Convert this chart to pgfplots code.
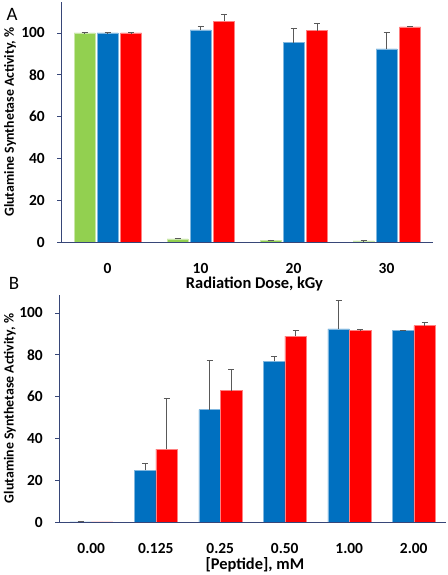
\documentclass[border=0pt]{standalone}
\usepackage{pgfplots}
\pgfplotsset{compat=1.18}
\usepackage{fontspec}
\setmainfont{Carlito}
\definecolor{cgreen}{RGB}{146,208,80}
\definecolor{cblue}{RGB}{0,112,192}
\definecolor{cred}{RGB}{255,0,0}
\definecolor{caxis}{RGB}{55,70,120}
\definecolor{cerr}{RGB}{89,89,89}
\pgfplotsset{
  myaxis/.style={
    scale only axis,
    ybar,
    axis lines=left,
    axis line style={-, caxis, line width=0.8pt},
    ymin=0,
    ytick={0,20,40,60,80,100},
    tick align=outside,
    major tick length=4bp,
    ytick style={caxis, line width=0.6pt},
    xtick style={draw=none},
    xtick=data,
    /pgf/number format/assume math mode=true,
    tick label style={font=\bfseries\fontsize{15.5}{17}\selectfont},
    label style={font=\bfseries\fontsize{13.9}{16}\selectfont},
    xticklabel style={anchor=center, yshift=-22bp},
    yticklabel style={anchor=east, inner sep=0pt, xshift=-12bp},
    error bars/error bar style={cerr, line width=0.8pt},
    error bars/error mark options={rotate=90, mark size=3bp, line width=0.8pt, cerr},
  }
}
\begin{document}
\begin{tikzpicture}[x=1bp,y=1bp]
\path[use as bounding box] (0,0) rectangle (448,575);
% Panel A
\begin{axis}[myaxis,
  at={(61bp,333bp)}, anchor=south west,
  width=372bp, height=240bp,
  xmin=-0.5, xmax=3.5, ymax=114.8,
  xticklabels={0,10,20,30},
  bar width=21bp,
  xlabel={Radiation Dose, kGy},
  ylabel={Glutamine Synthetase Activity, \%},
  xlabel style={at={(axis description cs:0.52,-0.177)}, anchor=center, font=\bfseries\fontsize{16.5}{18}\selectfont},
  ylabel style={at={(axis description cs:-0.137,0.5)}, anchor=center},
]
\addplot[fill=cgreen, draw=cgreen!50!white, line width=0.5pt, bar shift=-23bp,
  error bars/.cd, y dir=plus, y explicit]
  coordinates {(0,100) +- (0,0.1) (1,1.5) +- (0,0.3) (2,0.8) +- (0,0.2) (3,0.5) +- (0,0.1)};
\addplot[fill=cblue, draw=cblue!50!white, line width=0.5pt, bar shift=0bp,
  error bars/.cd, y dir=plus, y explicit]
  coordinates {(0,100) +- (0,0.1) (1,101.4) +- (0,1.5) (2,95.4) +- (0,6.8) (3,92.4) +- (0,7.9)};
\addplot[fill=cred, draw=cred!50!white, line width=0.5pt, bar shift=23.5bp,
  error bars/.cd, y dir=plus, y explicit]
  coordinates {(0,100) +- (0,0.1) (1,105.6) +- (0,3.5) (2,101.1) +- (0,3.4) (3,102.9) +- (0,0.2)};
\end{axis}
\node[font=\fontsize{19}{21}\selectfont, anchor=center] at (12,561) {A};
\node[font=\fontsize{19}{21}\selectfont, anchor=center] at (14,291.5) {B};
% Panel B
\begin{axis}[myaxis,
  at={(59bp,53bp)}, anchor=south west,
  width=387bp, height=227bp,
  xmin=-0.5, xmax=5.5, ymax=108.6,
  xticklabels={0.00,0.125,0.25,0.50,1.00,2.00},
  bar width=21.5bp,
  xlabel={[Peptide], mM},
  ylabel={Glutamine Synthetase Activity, \%},
  xlabel style={at={(axis description cs:0.506,-0.19)}, anchor=center, font=\bfseries\fontsize{16.5}{18}\selectfont},
  ylabel style={at={(axis description cs:-0.127,0.5)}, anchor=center},
]
\addplot[fill=cblue, draw=cblue!50!white, line width=0.5pt, bar shift=-10.75bp,
  error bars/.cd, y dir=plus, y explicit]
  coordinates {(0,0) +- (0,0.1) (1,24.8) +- (0,3.2) (2,53.8) +- (0,23.7) (3,76.8) +- (0,2.6) (4,92.4) +- (0,13.6) (5,91.8) +- (0,0)};
\addplot[fill=cred, draw=cred!50!white, line width=0.5pt, bar shift=10.75bp,
  error bars/.cd, y dir=plus, y explicit]
  coordinates {(0,0) +- (0,0) (1,34.9) +- (0,24.0) (2,62.8) +- (0,10.0) (3,88.9) +- (0,2.9) (4,91.5) +- (0,0.6) (5,93.9) +- (0,1.6)};
\end{axis}
\end{tikzpicture}
\end{document}
